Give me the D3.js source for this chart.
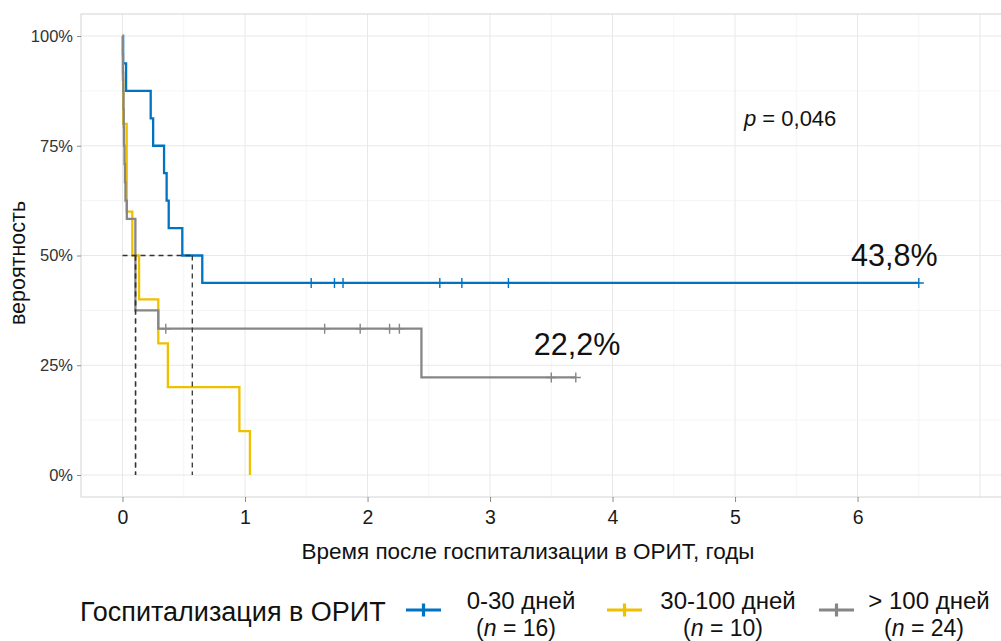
<!DOCTYPE html>
<html><head><meta charset="utf-8">
<script src="https://cdn.jsdelivr.net/npm/d3@7"></script>
<style>body{margin:0;background:#fff;} text{font-family:"Liberation Sans",Arial,sans-serif;}</style>
</head><body><svg id="c" width="1001" height="641"></svg>
<script>
// ---- data ----
const groups = ["0-30 дней", "30-100 дней", "> 100 дней"];
const groupN = [16, 10, 24];
const colors = ["#0073C2", "#EFC000", "#868686"];

const blueTimes  = [0.005, 0.029, 0.23, 0.25, 0.339, 0.36, 0.377, 0.488, 0.651];
const blueSurv   = [0.9375, 0.875, 0.8125, 0.75, 0.6875, 0.625, 0.5625, 0.5, 0.4375];
const blueCensor = [1.54, 1.73, 1.80, 2.59, 2.77, 3.15, 6.5];
const blueEnd = 6.5;

const yellowTimes  = [0.002, 0.006, 0.034, 0.08, 0.135, 0.292, 0.37, 0.954, 1.04];
const yellowSurv   = [0.9, 0.8, 0.6, 0.5, 0.4, 0.3, 0.2, 0.1, 0.0];
const yellowCensor = [];
const yellowEnd = 1.04;

const grayTimes  = [0.002, 0.004, 0.006, 0.008, 0.010, 0.012, 0.016, 0.020, 0.024, 0.035, 0.105, 0.292, 2.44];
const graySurv   = [0.9583, 0.9167, 0.875, 0.8333, 0.7917, 0.75, 0.7083, 0.6667, 0.625, 0.5833, 0.375, 0.3333, 0.2222];
const grayCensor = [0.353, 1.65, 1.94, 2.18, 2.26, 3.50, 3.70];
const grayEnd = 3.70;

const xTicks = [0, 1, 2, 3, 4, 5, 6];
const yTicks = [0, 0.25, 0.5, 0.75, 1];
const yTickLabels = ["0%", "25%", "50%", "75%", "100%"];
const endLabels = ["43,8%", "22,2%"];
const endLabelX = [6.3, 3.71];
const endLabelY = [0.477, 0.273];
const pText = "0,046";

const series = [
  {t: blueTimes, s: blueSurv, c: blueCensor, end: blueEnd},
  {t: yellowTimes, s: yellowSurv, c: yellowCensor, end: yellowEnd},
  {t: grayTimes, s: graySurv, c: grayCensor, end: grayEnd}
];

// ---- layout ----
const svg = d3.select("#c");
const P = {l: 81, r: 1001, t: 14, b: 497};
const x = d3.scaleLinear().domain([-0.339, 7.171]).range([P.l, P.r]);
const y = d3.scaleLinear().domain([0, 1]).range([475, 36]);

// grid
const g = svg.append("g");
const minorX = d3.range(-0.5, 7.6, 1);
const minorY = [0.125, 0.375, 0.625, 0.875];
g.selectAll(".mx").data(minorX.filter(v => x(v) > P.l && x(v) < P.r)).enter().append("line")
  .attr("x1", d => x(d)).attr("x2", d => x(d)).attr("y1", P.t).attr("y2", P.b)
  .attr("stroke", "#f3f3f3").attr("stroke-width", 0.8);
g.selectAll(".my").data(minorY).enter().append("line")
  .attr("x1", P.l).attr("x2", P.r).attr("y1", d => y(d)).attr("y2", d => y(d))
  .attr("stroke", "#f3f3f3").attr("stroke-width", 0.8);
g.selectAll(".Mx").data(d3.range(0, 8)).enter().append("line")
  .attr("x1", d => x(d)).attr("x2", d => x(d)).attr("y1", P.t).attr("y2", P.b)
  .attr("stroke", "#e8e8e8").attr("stroke-width", 1);
g.selectAll(".My").data(yTicks).enter().append("line")
  .attr("x1", P.l).attr("x2", P.r).attr("y1", d => y(d)).attr("y2", d => y(d))
  .attr("stroke", "#e8e8e8").attr("stroke-width", 1);
// panel border
svg.append("rect").attr("x", P.l).attr("y", P.t).attr("width", P.r - P.l + 5).attr("height", P.b - P.t)
  .attr("fill", "none").attr("stroke", "#d4d4d4").attr("stroke-width", 1);

// axes
const xAxis = d3.axisBottom(x).tickValues(xTicks).tickSize(5).tickPadding(8).tickFormat(d3.format("d"));
const xg = svg.append("g").attr("transform", `translate(0,${P.b})`).call(xAxis);
xg.select(".domain").remove();
xg.selectAll("line").attr("stroke", "#8a8a8a");
xg.selectAll("text").attr("font-size", 19.5).attr("fill", "#1a1a1a").attr("font-family", "Liberation Sans, Arial, sans-serif");

const yAxis = d3.axisLeft(y).tickValues(yTicks).tickSize(4).tickPadding(4).tickFormat((d, i) => yTickLabels[i]);
const yg = svg.append("g").attr("transform", `translate(${P.l},0)`).call(yAxis);
yg.select(".domain").remove();
yg.selectAll("line").attr("stroke", "#8a8a8a");
yg.selectAll("text").attr("font-size", 16.5).attr("fill", "#333").attr("font-family", "Liberation Sans, Arial, sans-serif");

svg.append("text").attr("x", 528).attr("y", 559).attr("text-anchor", "middle")
  .attr("font-size", 22.5).attr("fill", "#111").text("Время после госпитализации в ОРИТ, годы");
svg.append("text").attr("transform", "translate(25,263) rotate(-90)").attr("text-anchor", "middle")
  .attr("font-size", 21.5).attr("fill", "#111").text("вероятность");

// curves
const line = d3.line().x(d => x(d[0])).y(d => y(d[1])).curve(d3.curveStepAfter);
function survAt(sr, t) {
  let s = 1;
  sr.t.forEach((tt, i) => { if (tt <= t) s = sr.s[i]; });
  return s;
}
series.forEach((sr, k) => {
  const pts = [[0, 1]];
  sr.t.forEach((tt, i) => pts.push([tt, sr.s[i]]));
  pts.push([sr.end, sr.s[sr.s.length - 1]]);
  svg.append("path").attr("d", line(pts)).attr("fill", "none")
    .attr("stroke", colors[k]).attr("stroke-width", 2.3);
  svg.selectAll(null).data(sr.c).enter().append("path")
    .attr("d", d => { const cx = x(d), cy = y(survAt(sr, d)); return `M${cx},${cy-5}V${cy+5}M${cx-5},${cy}H${cx+5}`; })
    .attr("stroke", colors[k]).attr("stroke-width", 1.4).attr("fill", "none");
});

// median lines
const medians = series.map(sr => {
  for (let i = 0; i < sr.s.length; i++) {
    if (Math.abs(sr.s[i] - 0.5) < 1e-9) return (sr.t[i] + sr.t[i + 1]) / 2;
    if (sr.s[i] < 0.5) return sr.t[i];
  }
  return null;
}).filter(v => v !== null);
const dash = "5,4";
svg.append("line").attr("x1", x(0)).attr("x2", x(d3.max(medians))).attr("y1", y(0.5)).attr("y2", y(0.5))
  .attr("stroke", "#333").attr("stroke-width", 1.3).attr("stroke-dasharray", dash);
svg.selectAll(null).data(medians).enter().append("line")
  .attr("x1", d => x(d)).attr("x2", d => x(d)).attr("y1", y(0.5)).attr("y2", y(0))
  .attr("stroke", "#333").attr("stroke-width", 1.3).attr("stroke-dasharray", dash);

// annotations
svg.selectAll(null).data(endLabels).enter().append("text")
  .attr("x", (d, i) => x(endLabelX[i])).attr("y", (d, i) => y(endLabelY[i]))
  .attr("text-anchor", "middle").attr("font-size", 30.5).attr("fill", "#111").text(d => d);
const pt = svg.append("text").attr("x", x(5.45)).attr("y", 126).attr("text-anchor", "middle")
  .attr("font-size", 22).attr("fill", "#111");
pt.append("tspan").attr("font-style", "italic").text("p");
pt.append("tspan").text(" = " + pText);

// legend
svg.append("text").attr("x", 80).attr("y", 621).attr("font-size", 27).attr("fill", "#111").text("Госпитализация в ОРИТ");
const keyX = [406, 607, 819];
const labX = [521, 728, 929];
groups.forEach((gname, k) => {
  const kx = keyX[k], ky = 610;
  svg.append("path").attr("d", `M${kx},${ky}H${kx+35}M${kx+17.5},${ky-6.5}V${ky+6.5}`)
    .attr("stroke", colors[k]).attr("stroke-width", 3.2).attr("fill", "none");
  svg.append("text").attr("x", labX[k]).attr("y", 609).attr("text-anchor", "middle")
    .attr("font-size", 24).attr("fill", "#111").text(gname);
  const t2 = svg.append("text").attr("x", labX[k] - 5).attr("y", 636).attr("text-anchor", "middle")
    .attr("font-size", 23).attr("fill", "#111");
  t2.append("tspan").text("(");
  t2.append("tspan").attr("font-style", "italic").text("n");
  t2.append("tspan").text(" = " + groupN[k] + ")");
});
</script></body></html>
